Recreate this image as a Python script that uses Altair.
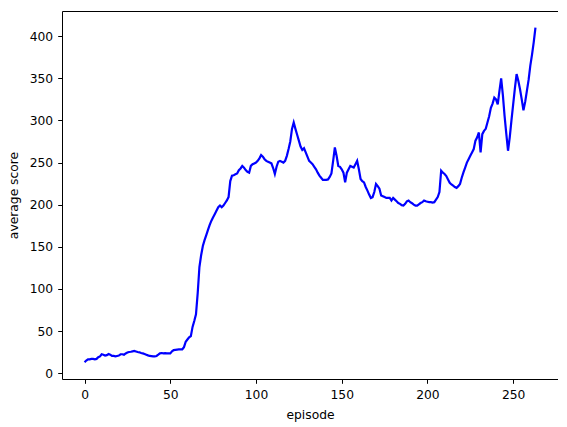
import altair as alt
import pandas as pd

scores = [
    13, 15, 16.5, 16.5, 17, 17, 16.5, 17, 19, 20,
    22.5, 22, 21, 21.5, 22.8, 22, 20.5, 20.5, 20, 20.5,
    21, 22.5, 22.5, 22, 23.5, 24.5, 25.2, 25.5, 26, 26.4,
    25.8, 25.2, 24.8, 24, 23.5, 22.8, 22, 21.2, 20.5, 20.3,
    20, 20, 20.5, 22, 23.6, 24, 23.6, 23.8, 23.5, 23.6,
    23.6, 26, 27.5, 27.8, 28, 28.2, 28.4, 28.4, 31, 37.4,
    40, 42.5, 44, 55, 62, 70, 95, 126, 140, 151,
    158, 164, 170, 176, 181, 185, 189, 193, 197, 199,
    197, 199, 202, 205, 209, 228, 234.5, 235, 236, 237,
    241, 243, 246, 244, 241, 239, 238, 246, 248, 249,
    250, 252, 255, 259, 257, 254, 252, 251, 250, 249,
    243.5, 236.5, 245, 251, 252, 251, 250, 252, 258, 266,
    275, 290, 297.5, 290, 283, 276, 269, 265, 267, 262,
    257, 252, 250, 248, 245, 242, 238, 234.5, 232, 229.5,
    229.5, 229.5, 230, 233, 237, 252, 268, 258, 246, 245,
    242, 238, 226.5, 238, 242, 246, 245, 244, 248, 252,
    242, 230.5, 228, 226.5, 221, 216.7, 212, 208, 209, 215,
    224.6, 222, 219, 211, 210, 209, 208, 208, 208, 205,
    208, 206, 204, 202, 201, 199.5, 199, 201, 204, 205,
    203, 201.7, 200, 199, 199, 200.5, 202, 203, 205, 204,
    203.5, 203, 203, 202.5, 203, 206, 209, 215, 240.4, 238,
    236.5, 234, 230, 226, 224, 222.6, 221, 220, 222, 224.6,
    232, 238.4, 244, 250, 254, 258, 262, 266, 276, 280,
    285.7, 262, 283.7, 287.6, 290, 297.5, 305, 315, 320, 327,
    325, 319, 335, 350, 330, 305, 284, 264, 280, 300,
    319, 338, 355, 347, 337, 325, 312, 322, 335, 348,
    365, 378, 393, 410,
]
episodes = list(range(len(scores)))
x_ticks = [0, 50, 100, 150, 200, 250]
y_ticks = [0, 50, 100, 150, 200, 250, 300, 350, 400]

df = pd.DataFrame({"episode": episodes, "score": scores})

font = "DejaVu Sans"
fs = 12.3

chart = (
    alt.Chart(df)
    .mark_line(color="#0000ff", strokeWidth=2.2)
    .encode(
        x=alt.X(
            "episode:Q",
            scale=alt.Scale(domain=[-13.15, 276.15], nice=False, zero=False),
            axis=alt.Axis(
                values=x_ticks, title="episode", grid=False, format="d",
                tickSize=4.3, tickColor="black", domain=False,
                labelFont=font, labelFontSize=fs, labelColor="black", labelPadding=5,
                titleFont=font, titleFontSize=fs, titleFontWeight="normal",
                titleColor="black", titlePadding=8,
            ),
        ),
        y=alt.Y(
            "score:Q",
            scale=alt.Scale(domain=[-6.85, 429.85], nice=False, zero=False),
            axis=alt.Axis(
                values=y_ticks, title="average score", grid=False, format="d",
                tickSize=4.3, tickColor="black", domain=False,
                labelFont=font, labelFontSize=fs, labelColor="black", labelPadding=5,
                titleFont=font, titleFontSize=fs, titleFontWeight="normal",
                titleColor="black", titlePadding=9,
            ),
        ),
    )
    .properties(
        width=496,
        height=368,
        autosize=alt.AutoSizeParams(type="none"),
        padding={"left": 54, "top": 3, "right": 0, "bottom": 52},
    )
    .configure_view(stroke="black", strokeWidth=1)
)

chart.save("out.html", embed_options={"renderer": "svg", "actions": False})
